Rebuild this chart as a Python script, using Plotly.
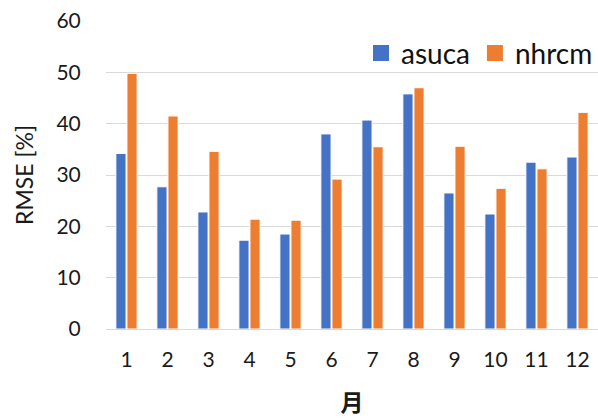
import plotly.graph_objects as go

months = ["1", "2", "3", "4", "5", "6", "7", "8", "9", "10", "11", "12"]
asuca = [34.2, 27.7, 22.8, 17.3, 18.5, 38.0, 40.7, 45.8, 26.5, 22.4, 32.5, 33.5]
nhrcm = [49.8, 41.5, 34.6, 21.4, 21.2, 29.2, 35.5, 47.0, 35.6, 27.4, 31.2, 42.2]

BLUE = "#4472C4"
ORANGE = "#ED7D31"
FONT = "Lato, 'Noto Sans CJK JP', sans-serif"

fig = go.Figure()
for name, vals, col in [("asuca", asuca, BLUE), ("nhrcm", nhrcm, ORANGE)]:
    fig.add_trace(go.Bar(x=months, y=vals, name=name, showlegend=False,
                         marker=dict(color=col, line=dict(color="white", width=1))))
# legend entries with larger square swatches
for name, col in [("asuca", BLUE), ("nhrcm", ORANGE)]:
    fig.add_trace(go.Scatter(x=[None], y=[None], name=name, mode="markers",
                             marker=dict(symbol="square", size=18, color=col)))

fig.update_layout(
    width=598, height=418,
    margin=dict(l=106, r=0, t=21, b=89),
    paper_bgcolor="white", plot_bgcolor="white",
    barmode="group", bargap=0.46, bargroupgap=0.08,
    font=dict(family=FONT, size=21, color="#1a1a1a"),
    showlegend=True,
    legend=dict(orientation="h", x=1.0, xanchor="right", y=0.895, yanchor="middle",
                font=dict(size=28, color="#111111"), bgcolor="rgba(0,0,0,0)",
                itemwidth=30, traceorder="normal", itemsizing="trace"),
    xaxis=dict(
        showgrid=False, showline=False, zeroline=False,
        ticks="outside", ticklen=12, tickcolor="rgba(0,0,0,0)",
        tickfont=dict(size=21),
        title=dict(text="<b>月</b>", font=dict(size=23, family="'Noto Sans CJK JP', sans-serif"),
                   standoff=24),
    ),
    yaxis=dict(
        range=[0, 60], dtick=10,
        showgrid=True, gridcolor="#D9D9D9", gridwidth=1.3,
        zeroline=True, zerolinecolor="#D9D9D9", zerolinewidth=1.3,
        showline=False,
        ticks="outside", ticklen=20, tickcolor="rgba(0,0,0,0)",
        tickfont=dict(size=21),
        title=dict(text="RMSE [%]", font=dict(size=23), standoff=16),
    ),
)

fig.write_html("out.html")
